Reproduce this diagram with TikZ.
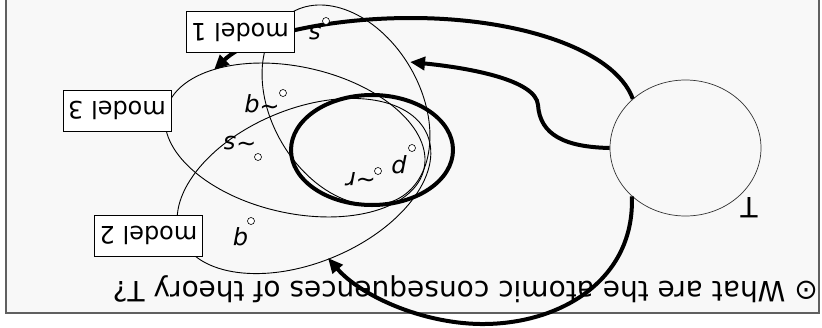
\documentclass[tikz,border=0pt]{standalone}
\usepackage{fontspec}
\setmainfont{DejaVu Sans}[ItalicFont={DejaVu Sans Oblique}]
\usetikzlibrary{arrows.meta, shapes.geometric}
\definecolor{slideFrame}{HTML}{606060}
\definecolor{slideWash}{HTML}{F8F8F8}
\newcommand{\sized}[1]{\fontsize{#1}{#1}\selectfont}

\begin{document}
\begin{tikzpicture}[
    x=1pt, y=-1pt,
    modelbox/.style={draw=black, line width=0.8pt, fill=white, rotate=180,
                     minimum width=108pt, minimum height=41pt, inner sep=0pt,
                     font=\sized{24pt}},
    region/.style={draw=black, line width=0.9pt},
    core/.style={draw=black, line width=4pt},
    flow/.style={-{Triangle[length=15pt, width=13pt]}, line width=4pt, draw=black},
    atom/.style={rotate=180, anchor=base, inner sep=0pt, font=\sized{24pt}\itshape},
    atomdot/.style={draw=black, line width=0.6pt, fill=white, circle,
                    minimum size=7pt, inner sep=0pt},
  ]
  \useasboundingbox (0,0) rectangle (822,327);
  % slide frame (the slide is shown upside down)
  \draw[slideFrame, fill=slideWash, line width=1.3pt] (6,-5) rectangle (819,313);

  % the three model regions and the common core
  \draw[region, rotate around={-59.8:(346,105)}] (346,105) ellipse [x radius=107.3, y radius=74.4];
  \draw[region, rotate around={-12.6:(295,140)}] (295,140) ellipse [x radius=132.2, y radius=73.1];
  \draw[region, rotate around={22.5:(304,186)}] (304,186) ellipse [x radius=133.5, y radius=77];
  \draw[core] (372,150) ellipse [x radius=81, y radius=55];

  \node[ellipse, draw=black!80, line width=0.7pt, minimum width=151pt, minimum height=136pt,
        inner sep=0pt] (theory) at (685.5,148) {};
  \node[rotate=180, anchor=base, inner sep=0pt, font=\sized{28pt}] (tlabel) at (749,197) {T};

  \node[rotate=180, anchor=base west, inner sep=0pt, font=\sized{28pt}] (question) at (818,281)
    {⊙ What are the atomic consequences of theory T?};

  \coordinate (m3hit) at (214,70);
  \coordinate (m1hit) at (410,62);
  \coordinate (m2hit) at (328,258);
  \draw[flow] (theory.137) .. controls (615,50) and (520,18) .. (411,18)
    .. controls (330,18) and (250,35) .. (m3hit);
  \draw[flow] (theory.west) .. controls (565,147) and (540,135) .. (538,105)
    .. controls (536,80) and (470,68) .. (m1hit);
  \draw[flow] (theory.222) .. controls (635,280) and (560,325) .. (480,324)
    .. controls (420,323) and (360,295) .. (m2hit);

  \node[modelbox] (model1) at (240,32) {model 1};
  \node[modelbox] (model3) at (117,110.5) {model 3};
  \node[modelbox] (model2) at (148.5,235.5) {model 2};

  % atoms, each with its point
  \node[atom] (sA) at (315,26) {s};
  \node[atomdot] (sAdot) at (326,21) {};
  \node[atom] (nq) at (262,99) {\textasciitilde q};
  \node[atomdot] (nqdot) at (283,93) {};
  \node[atom] (ns) at (240,136) {\textasciitilde s};
  \node[atomdot] (nsdot) at (258,157) {};
  \node[atom] (pA) at (399,160) {p};
  \node[atomdot] (pAdot) at (412,148) {};
  \node[atom] (nr) at (361,172) {\textasciitilde r};
  \node[atomdot] (nrdot) at (378,171) {};
  \node[atom] (qA) at (240.5,232) {q};
  \node[atomdot] (qAdot) at (251,221) {};
\end{tikzpicture}
\end{document}
